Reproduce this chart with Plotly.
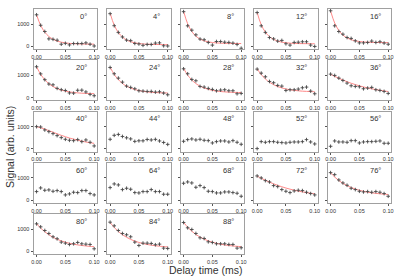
import plotly.graph_objects as go

# ---------------- data ----------------
delay_ms = [0.0, 0.0071, 0.0143, 0.0214, 0.0286, 0.0357, 0.0429, 0.05,
            0.0571, 0.0643, 0.0714, 0.0786, 0.0857, 0.0929, 0.1]
angles = [0, 4, 8, 12, 16, 20, 24, 28, 32, 36, 40, 44, 48, 52, 56,
          60, 64, 68, 72, 76, 80, 84, 88]
x_ticks = [0, 0.05, 0.1]
x_tick_labels = ["0.00", "0.05", "0.10"]
y_ticks = [0, 1000]
y_tick_labels = ["0", "1000"]

sig_0 = [1420, 950, 670, 340, 320, 280, 100, 140, 70, 130, 130, 130, 160, 100, 20]
sig_4 = [1470, 930, 630, 425, 284, 260, 134, 110, 50, 90, 90, 150, 160, 30, 20]
sig_8 = [1560, 925, 730, 520, 330, 300, 180, 60, 220, 220, 190, 180, 150, 90, -80]
sig_12 = [1520, 925, 630, 400, 340, 240, 270, 120, 60, 180, 190, 210, 210, 60, 0]
sig_16 = [1600, 925, 670, 550, 400, 360, 250, 160, 160, 180, 240, 180, 210, 150, 100]
sig_20 = [1390, 1070, 810, 615, 580, 420, 360, 325, 215, 205, 335, 340, 260, 150, 90]
sig_24 = [1358, 1075, 881, 701, 522, 463, 403, 313, 299, 284, 284, 254, 269, 209, 134]
sig_28 = [1298, 1075, 821, 761, 507, 478, 418, 373, 313, 343, 358, 313, 313, 179, 194]
sig_32 = [1284, 1104, 940, 731, 672, 552, 522, 328, 358, 358, 388, 448, 478, 299, 179]
sig_36 = [1060, 1000, 881, 776, 657, 537, 507, 493, 403, 433, 463, 358, 328, 284, 194]
sig_40 = [1000, 985, 851, 776, 687, 597, 507, 433, 388, 373, 418, 328, 403, 299, 134]
sig_44 = [433, 612, 650, 560, 500, 450, 340, 365, 365, 425, 403, 430, 358, 290, 205]
sig_48 = [343, 418, 448, 403, 433, 388, 373, 269, 328, 358, 358, 313, 373, 299, 209]
sig_52 = [15, 328, 299, 328, 328, 299, 284, 269, 299, 313, 313, 328, 418, 313, 224]
sig_56 = [119, 358, 313, 313, 299, 373, 373, 269, 313, 328, 328, 343, 358, 254, 254]
sig_60 = [388, 552, 448, 463, 403, 433, 388, 239, 284, 358, 343, 433, 433, 299, 239]
sig_64 = [567, 731, 687, 478, 537, 493, 343, 328, 388, 388, 478, 388, 388, 269, 269]
sig_68 = [761, 821, 776, 582, 657, 567, 403, 388, 328, 328, 373, 373, 343, 313, 179]
sig_72 = [1090, 1000, 881, 821, 657, 612, 478, 403, 343, 418, 448, 433, 358, 299, 239]
sig_76 = [1239, 1149, 910, 776, 672, 537, 478, 403, 373, 388, 358, 388, 358, 299, 179]
sig_80 = [1239, 1104, 940, 806, 657, 567, 418, 373, 313, 343, 403, 343, 328, 313, 119]
sig_84 = [1313, 1149, 940, 806, 746, 657, 418, 269, 373, 373, 358, 299, 328, 149, 134]
sig_88 = [1298, 1060, 985, 806, 612, 582, 433, 403, 343, 343, 343, 313, 313, 149, 164]

fit_0 = [1420, 945, 641, 446, 322, 241, 191, 158, 137, 124, 115, 110, 106, 104, 103]
fit_4 = [1490, 955, 624, 419, 291, 212, 161, 131, 111, 100, 92, 88, 85, 83, 82]
fit_8 = [1580, 1016, 671, 460, 332, 253, 205, 176, 158, 147, 140, 136, 134, 132, 131]
fit_12 = [1520, 975, 642, 439, 315, 239, 193, 165, 147, 137, 130, 126, 124, 122, 121]
fit_16 = [1590, 1052, 718, 511, 382, 302, 251, 221, 201, 190, 182, 178, 175, 173, 172]
fit_20 = [1390, 1052, 808, 631, 503, 412, 344, 296, 262, 236, 218, 204, 194, 188, 183]
fit_24 = [1370, 1046, 812, 642, 519, 432, 367, 321, 288, 263, 246, 233, 223, 218, 213]
fit_28 = [1320, 1015, 795, 636, 520, 438, 377, 333, 303, 279, 263, 251, 242, 237, 232]
fit_32 = [1300, 1040, 843, 696, 585, 502, 439, 393, 357, 331, 311, 295, 285, 276, 269]
fit_36 = [1050, 960, 875, 795, 720, 650, 590, 535, 485, 440, 400, 365, 335, 305, 280]
fit_40 = [1000, 950, 890, 820, 750, 680, 610, 550, 490, 440, 390, 350, 310, 280, 250]
fit_72 = [1080, 985, 895, 812, 736, 667, 604, 548, 497, 452, 411, 375, 343, 315, 290]
fit_76 = [1230, 1040, 885, 758, 655, 571, 503, 446, 401, 364, 334, 309, 289, 272, 259]
fit_80 = [1250, 1047, 882, 746, 636, 546, 473, 413, 365, 325, 293, 267, 245, 227, 213]
fit_84 = [1300, 1076, 896, 750, 634, 540, 464, 403, 354, 313, 282, 256, 235, 219, 205]
fit_88 = [1310, 1086, 906, 760, 644, 550, 474, 413, 364, 323, 292, 266, 245, 229, 215]

signals = [sig_0, sig_4, sig_8, sig_12, sig_16, sig_20, sig_24, sig_28, sig_32,
           sig_36, sig_40, sig_44, sig_48, sig_52, sig_56, sig_60, sig_64,
           sig_68, sig_72, sig_76, sig_80, sig_84, sig_88]
fits = [fit_0, fit_4, fit_8, fit_12, fit_16, fit_20, fit_24, fit_28, fit_32,
        fit_36, fit_40, None, None, None, None, None, None, None,
        fit_72, fit_76, fit_80, fit_84, fit_88]

# ---------------- layout ----------------
W, H = 400, 277
col_left = [32, 106.3, 180.5, 254.8, 329]
panel_w = 64
row_top = [9, 60.3, 111.5, 162.8, 214]
panel_h = 40

AXIS_COL = "#a0a0a0"
TEXT_COL = "#333333"
FONT = "Liberation Sans, Arial, sans-serif"

fig = go.Figure()
layout_axes = {}
annotations = []

for i, (ang, sig, fit) in enumerate(zip(angles, signals, fits)):
    r, c = divmod(i, 5)
    n = "" if i == 0 else str(i + 1)
    xa, ya = "x" + n, "y" + n
    x0 = col_left[c] / W
    x1 = (col_left[c] + panel_w) / W
    y1 = 1 - row_top[r] / H
    y0 = 1 - (row_top[r] + panel_h) / H

    if fit is not None:
        fig.add_trace(go.Scatter(
            x=delay_ms, y=fit, mode="lines", xaxis=xa, yaxis=ya,
            line=dict(color="#ff8a8a", width=1, shape="spline"),
            hoverinfo="skip", showlegend=False))
    fig.add_trace(go.Scatter(
        x=delay_ms, y=sig, mode="markers", xaxis=xa, yaxis=ya,
        marker=dict(symbol="cross-thin", size=2.6,
                    line=dict(color="#454545", width=0.9)),
        showlegend=False))

    layout_axes["xaxis" + n] = dict(
        domain=[x0, x1], anchor=ya, range=[-0.005, 0.105],
        tickvals=x_ticks, ticktext=x_tick_labels, ticks="outside",
        ticklen=2, tickwidth=0.8, tickcolor="#555",
        tickfont=dict(size=5.5, color=TEXT_COL, family=FONT),
        showline=True, mirror=True, linecolor=AXIS_COL, linewidth=1.3,
        showgrid=False, zeroline=False, fixedrange=True)
    layout_axes["yaxis" + n] = dict(
        domain=[y0, y1], anchor=xa, range=[-115, 1680],
        tickvals=y_ticks, ticktext=y_tick_labels, ticks="outside",
        ticklen=2, tickwidth=0.8, tickcolor="#555",
        showticklabels=(c == 0),
        tickfont=dict(size=5.5, color=TEXT_COL, family=FONT),
        showline=True, mirror=True, linecolor=AXIS_COL, linewidth=1.3,
        showgrid=False, zeroline=False, fixedrange=True)

    annotations.append(dict(
        text=f"{ang}°", xref=xa + " domain", yref=ya + " domain",
        x=0.87, y=0.82, xanchor="right", yanchor="middle", showarrow=False,
        font=dict(size=7.5, color=TEXT_COL, family=FONT)))

annotations.append(dict(
    text="Delay time (ms)", xref="paper", yref="paper",
    x=206 / W, y=1 - 270 / H, xanchor="center", yanchor="middle",
    showarrow=False, font=dict(size=10.5, color=TEXT_COL, family=FONT)))
annotations.append(dict(
    text="Signal (arb. units)", xref="paper", yref="paper",
    x=8 / W, y=1 - 147 / H, xanchor="center", yanchor="middle",
    textangle=-90, showarrow=False,
    font=dict(size=10.5, color=TEXT_COL, family=FONT)))

fig.update_layout(
    width=W, height=H, margin=dict(l=0, r=0, t=0, b=0),
    paper_bgcolor="white", plot_bgcolor="white",
    annotations=annotations, **layout_axes)

fig.write_html(
    "out.html",
    config={"displayModeBar": False},
    post_script="document.body.style.margin='0';document.body.style.overflow='hidden';")
